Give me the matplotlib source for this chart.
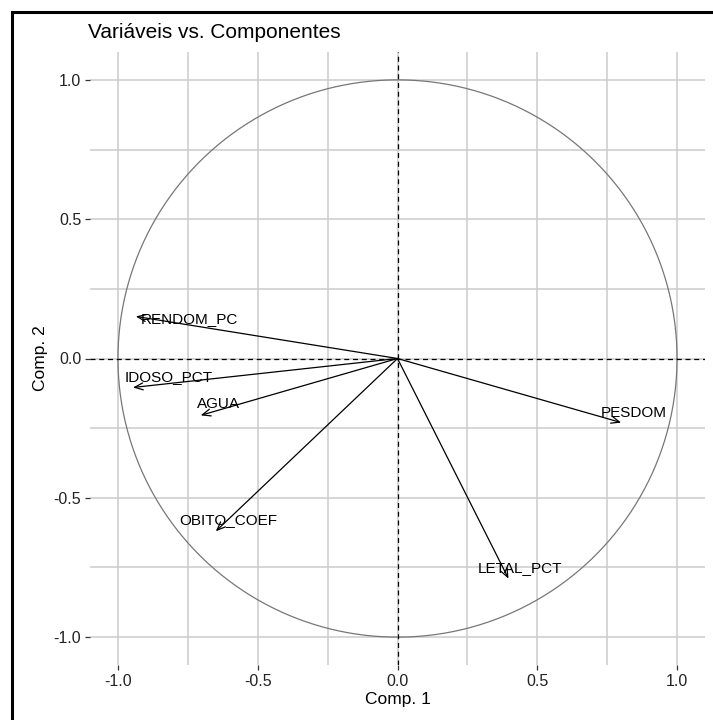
import numpy as np
import matplotlib.pyplot as plt
from matplotlib.lines import Line2D

plt.rcParams['font.family'] = ['Liberation Sans', 'DejaVu Sans']

# loadings (arrow ends)
variables = ['RENDOM_PC', 'IDOSO_PCT', 'AGUA', 'OBITO_COEF', 'LETAL_PCT', 'PESDOM']
comp1 = [-0.936, -0.946, -0.704, -0.650, 0.397, 0.800]
comp2 = [0.151, -0.104, -0.204, -0.620, -0.790, -0.230]
# where the labels sit
label_x = [-0.743, -0.818, -0.639, -0.604, 0.439, 0.846]
label_y = [0.143, -0.068, -0.165, -0.581, -0.753, -0.194]

ticks = [-1.0, -0.5, 0.0, 0.5, 1.0]
minor_ticks = [-0.75, -0.25, 0.25, 0.75]

fig = plt.figure(figsize=(7.13, 7.2), dpi=100)
ax = fig.add_axes([90 / 713, 55 / 720, 615 / 713, 613 / 720])

ax.set_xlim(-1.1, 1.1)
ax.set_ylim(-1.1, 1.1)
for s in ax.spines.values():
    s.set_visible(False)

ax.set_xticks(ticks)
ax.set_yticks(ticks)
ax.set_xticks(minor_ticks, minor=True)
ax.set_yticks(minor_ticks, minor=True)
ax.set_xticklabels(['%.1f' % t for t in ticks])
ax.set_yticklabels(['%.1f' % t for t in ticks])
ax.tick_params(which='major', length=3.8, width=0.9, color='#333333',
               labelsize=11.5, labelcolor='#222222', pad=2.5)
ax.tick_params(which='minor', length=0)
ax.grid(True, which='both', color='#cccccc', linewidth=1.1)
ax.set_axisbelow(True)

# unit circle
t = np.linspace(0, 2 * np.pi, 400)
ax.plot(np.cos(t), np.sin(t), color='#777777', linewidth=0.9)

ax.axhline(0, color='black', linestyle=(0, (4, 3)), linewidth=0.9)
ax.axvline(0, color='black', linestyle=(0, (4, 3)), linewidth=0.9)

for x, y in zip(comp1, comp2):
    ax.annotate('', xy=(x, y), xytext=(0, 0),
                arrowprops=dict(arrowstyle='->,head_length=0.6,head_width=0.25',
                                color='black', lw=0.9, shrinkA=0, shrinkB=0))

for name, x, y in zip(variables, label_x, label_y):
    ax.text(x, y, name, ha='center', va='center', fontsize=11, color='black')

ax.set_xlabel('Comp. 1', fontsize=12.5, color='black', labelpad=2)
ax.set_ylabel('Comp. 2', fontsize=12.5, color='black', labelpad=4)
fig.text(88 / 713, 1 - 33 / 720, 'Variáveis vs. Componentes', fontsize=15,
         ha='left', va='center')

# black frame on left and top edge
fig.add_artist(Line2D([11.5 / 713, 11.5 / 713], [0, 1 - 11.5 / 720],
                      transform=fig.transFigure, color='black', lw=2.2))
fig.add_artist(Line2D([11.5 / 713, 1], [1 - 11.5 / 720, 1 - 11.5 / 720],
                      transform=fig.transFigure, color='black', lw=2.2))

fig.savefig('out.png', dpi=100)
